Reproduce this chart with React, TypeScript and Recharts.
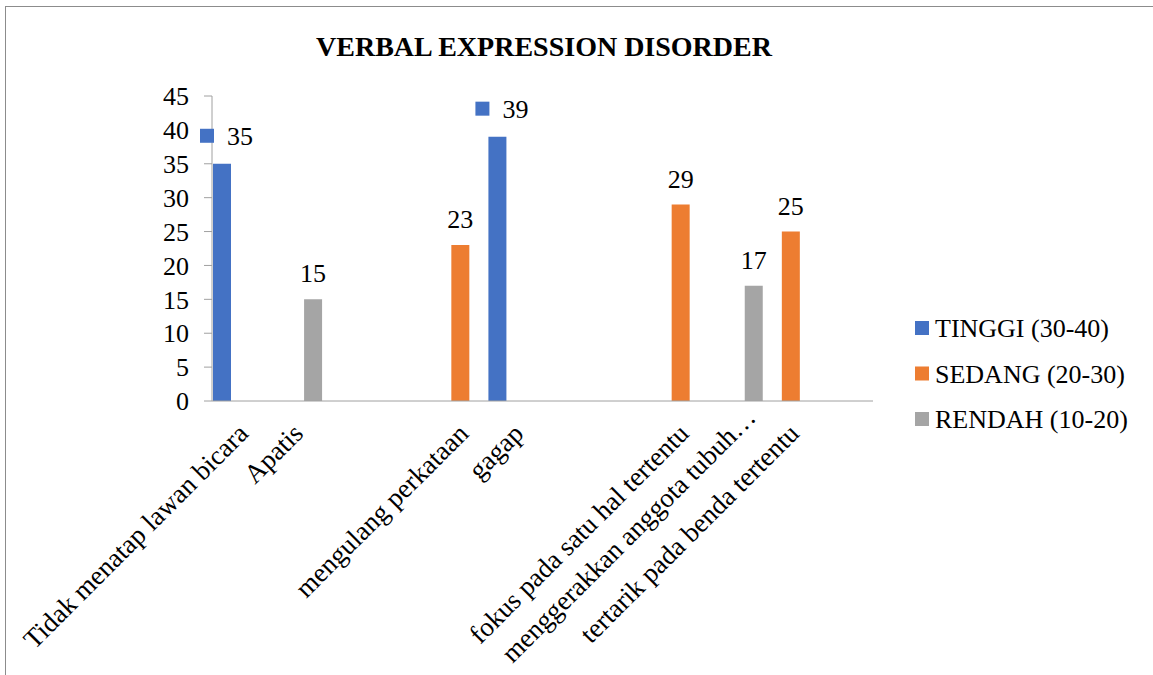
import { BarChart, Bar, XAxis, YAxis, LabelList } from "recharts";

const categories = [
  "Tidak menatap lawan bicara",
  "Apatis",
  "",
  "",
  "mengulang perkataan",
  "gagap",
  "",
  "",
  "fokus pada satu hal tertentu",
  "menggerakkan anggota tubuh…",
  "tertarik pada benda tertentu",
  "",
];
const tinggi = [35, null, null, null, null, 39, null, null, null, null, null, null];
const sedang = [null, null, null, null, 23, null, null, null, 29, null, 25, null];
const rendah = [null, 15, null, null, null, null, null, null, null, 17, null, null];
const yTicks = [0, 5, 10, 15, 20, 25, 30, 35, 40, 45];

const series = [
  { key: "tinggi", name: "TINGGI (30-40)", color: "#4472C4", keyInLabel: true },
  { key: "sedang", name: "SEDANG (20-30)", color: "#ED7D31", keyInLabel: false },
  { key: "rendah", name: "RENDAH (10-20)", color: "#A5A5A5", keyInLabel: false },
];

const data = categories.map((name, i) => ({
  name,
  tinggi: tinggi[i],
  sedang: sedang[i],
  rendah: rendah[i],
}));

const FONT = '"Liberation Serif", "Times New Roman", serif';
const AXIS = "#a0a0a0";

// the long truncated label is pushed up so it stays inside the chart
function CategoryTick(props: any) {
  const { x, y, payload, index } = props;
  if (!payload.value) return null;
  const nudge = index === 9 ? { dx: 12, dy: -16 } : { dx: 0, dy: 0 };
  return (
    <text
      transform={`translate(${x - 2.5 + nudge.dx},${y + 21.5 + nudge.dy}) rotate(-45)`}
      textAnchor="end"
      dy="0.66em"
      fontFamily={FONT}
      fontSize={27}
      fill="#000"
    >
      {payload.value}
    </text>
  );
}

function makeLabel(color: string, withKey: boolean) {
  return (props: any) => {
    const { x, y, width, value } = props;
    if (value == null) return null;
    const cx = x + width / 2;
    if (withKey) {
      return (
        <g>
          <rect x={cx - 22} y={y - 35} width={14} height={14} fill={color} />
          <text x={cx + 5} y={y - 28} dy="0.35em" fontFamily={FONT} fontSize={26} fill="#000">
            {value}
          </text>
        </g>
      );
    }
    return (
      <text x={cx} y={y - 26} dy="0.35em" textAnchor="middle" fontFamily={FONT} fontSize={26} fill="#000">
        {value}
      </text>
    );
  };
}

export default function App() {
  return (
    <div style={{ position: "fixed", left: 0, top: 0, width: 1153, height: 675, background: "#fff", fontFamily: FONT }}>
      <BarChart
        width={1153}
        height={675}
        data={data}
        margin={{ top: 96, right: 280, bottom: 0, left: 0 }}
        barCategoryGap={1}
        barGap={0}
      >
        <XAxis
          dataKey="name"
          interval={0}
          height={274}
          tickSize={0}
          tickMargin={0}
          tickLine={false}
          stroke={AXIS}
          tick={<CategoryTick />}
        />
        <YAxis
          width={212}
          domain={[0, 45]}
          ticks={yTicks}
          interval={0}
          tickSize={8}
          tickMargin={15}
          stroke={AXIS}
          tick={{ fontFamily: FONT, fontSize: 26, fill: "#000" }}
        />
        {series.map((s) => (
          <Bar key={s.key} dataKey={s.key} name={s.name} fill={s.color} isAnimationActive={false}>
            <LabelList dataKey={s.key} content={makeLabel(s.color, s.keyInLabel)} />
          </Bar>
        ))}
      </BarChart>
      <svg
        width={1153}
        height={675}
        style={{ position: "absolute", left: 0, top: 0, pointerEvents: "none" }}
      >
        <line x1={5.5} y1={6} x2={5.5} y2={675} stroke="#8c8c8c" strokeWidth={1} />
        <line x1={5} y1={6.5} x2={1153} y2={6.5} stroke="#8c8c8c" strokeWidth={1} />
        <text x={544} y={56} textAnchor="middle" fontFamily={FONT} fontSize={28} fontWeight="bold" fill="#000">
          VERBAL EXPRESSION DISORDER
        </text>
        {series.map((s, i) => (
          <g key={s.key}>
            <rect x={915} y={337 + i * 45.5 - 16} width={14} height={14} fill={s.color} />
            <text x={935} y={337 + i * 45.5} fontFamily={FONT} fontSize={26} fill="#000">
              {s.name}
            </text>
          </g>
        ))}
      </svg>
    </div>
  );
}
